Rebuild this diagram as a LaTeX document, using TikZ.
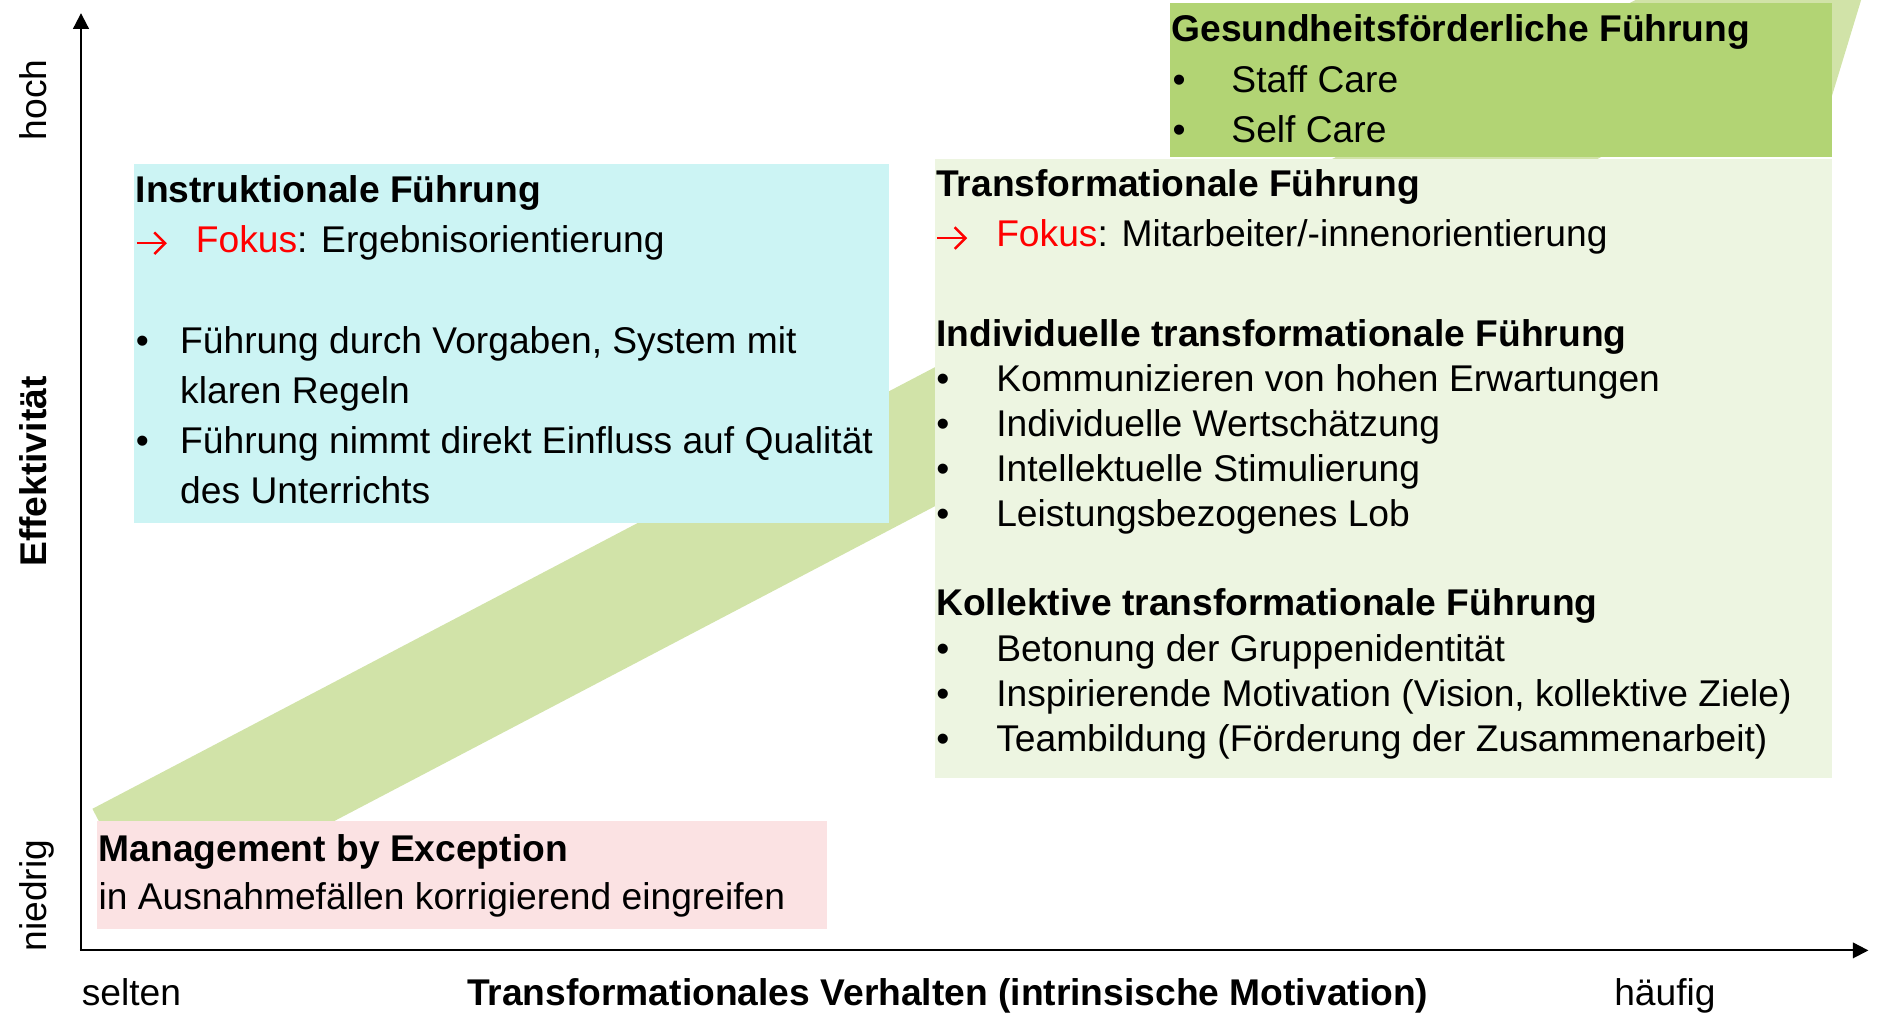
\documentclass[tikz,border=0pt]{standalone}
\usepackage{fontspec}
\setmainfont{Liberation Sans}
\usetikzlibrary{arrows.meta}
\definecolor{bandgreen}{RGB}{209,227,168}
\definecolor{cyanbox}{RGB}{204,244,244}
\definecolor{transbox}{RGB}{237,245,225}
\definecolor{gesbox}{RGB}{178,212,116}
\definecolor{pinkbox}{RGB}{251,226,227}
\definecolor{fokusred}{RGB}{255,0,0}
\begin{document}
\begin{tikzpicture}[x=1pt,y=-1pt,
  txt/.style={anchor=base west, inner sep=0pt, font=\fontsize{31}{37}\selectfont},
  hd/.style={anchor=base west, inner sep=0pt, font=\fontsize{31}{37}\selectfont\bfseries},
  rot/.style={anchor=base west, inner sep=0pt, rotate=90, font=\fontsize{31}{37}\selectfont},
  axisline/.style={line width=1.7pt, -{Triangle[length=13pt,width=13pt]}},
  fokusarrow/.style={draw=fokusred, line width=2pt, -{Straight Barb[length=9pt,width=18pt,line width=2pt]}},
  panel/.style={anchor=north west, inner sep=0pt, outer sep=0pt, draw=none}]
\useasboundingbox (0,0) rectangle (1565,845);
\clip (0,0) rectangle (1565,845);

% background band (block arrow)
\fill[bandgreen] (77,674) -- (1445.9,-43.5) -- (1418.6,-95.4) -- (1565.6,-48.3)
  -- (1520.7,99.4) -- (1493.5,47.4) -- (124.6,764.9) -- cycle;

% panels
\node[panel, fill=cyanbox, minimum width=629pt, minimum height=299pt] (instrbox) at (112,137) {};
\node[panel, fill=transbox, minimum width=748pt, minimum height=515.5pt] (transbox) at (779,132.5) {};
\node[panel, fill=gesbox, minimum width=552pt, minimum height=128pt] (gesbox) at (975,2.5) {};
\node[panel, fill=pinkbox, minimum width=608pt, minimum height=90pt] (mbebox) at (81,684) {};

% axes
\coordinate (origin) at (67.5,792);
\coordinate (ytop) at (67.5,11);
\coordinate (xend) at (1557,792);
\draw[axisline] (origin) -- (ytop);
\draw[axisline] ([xshift=-0.85pt]origin) -- (xend);

% axis labels
\node[rot] (hoch) at (39,117) {hoch};
\node[rot, anchor=base, font=\fontsize{31}{37}\selectfont\bfseries] (effekt) at (39,393) {Effektivität};
\node[rot] (niedrig) at (39,793) {niedrig};
\node[txt] (selten) at (68,838) {selten};
\node[hd] (xtitle) at (389,838) {Transformationales Verhalten (intrinsische Motivation)};
\node[txt] (haeufig) at (1345,838) {häufig};

% Instruktionale Fuehrung
\node[hd] (instrtitle) at (113,168.5) {Instruktionale Führung};
\coordinate (instrarrowS) at (114,202.7);
\coordinate (instrarrowE) at (139,202.7);
\draw[fokusarrow] (instrarrowS) -- (instrarrowE);
\node[txt] (instrfokus) at (163,210.5) {\textcolor{fokusred}{Fokus}: Ergebnisorientierung};
\node[txt] (instrb1) at (113,294.5) {•};
\node[txt] (instrt1) at (150,294.5) {Führung durch Vorgaben, System mit};
\node[txt] (instrt1b) at (150,336) {klaren Regeln};
\node[txt] (instrb2) at (113,378) {•};
\node[txt] (instrt2) at (150,378) {Führung nimmt direkt Einfluss auf Qualität};
\node[txt] (instrt2b) at (150,419.5) {des Unterrichts};

% Transformationale Fuehrung
\node[hd] (transtitle) at (780,164) {Transformationale Führung};
\coordinate (transarrowS) at (781,198.4);
\coordinate (transarrowE) at (806,198.4);
\draw[fokusarrow] (transarrowS) -- (transarrowE);
\node[txt] (transfokus) at (830,205.7) {\textcolor{fokusred}{Fokus}: Mitarbeiter/-innenorientierung};
\node[hd] (indtitle) at (780,288.5) {Individuelle transformationale Führung};
\node[txt] (indb1) at (780,326) {•};
\node[txt] (indt1) at (830,326) {Kommunizieren von hohen Erwartungen};
\node[txt] (indb2) at (780,363.5) {•};
\node[txt] (indt2) at (830,363.5) {Individuelle Wertschätzung};
\node[txt] (indb3) at (780,401) {•};
\node[txt] (indt3) at (830,401) {Intellektuelle Stimulierung};
\node[txt] (indb4) at (780,438.5) {•};
\node[txt] (indt4) at (830,438.5) {Leistungsbezogenes Lob};
\node[hd] (koltitle) at (780,513) {Kollektive transformationale Führung};
\node[txt] (kolb1) at (780,551) {•};
\node[txt] (kolt1) at (830,551) {Betonung der Gruppenidentität};
\node[txt] (kolb2) at (780,588.5) {•};
\node[txt] (kolt2) at (830,588.5) {Inspirierende Motivation (Vision, kollektive Ziele)};
\node[txt] (kolb3) at (780,626) {•};
\node[txt] (kolt3) at (830,626) {Teambildung (Förderung der Zusammenarbeit)};

% Gesundheitsfoerderliche Fuehrung
\node[hd] (gestitle) at (976,35) {Gesundheitsförderliche Führung};
\node[txt] (gesb1) at (977,77.5) {•};
\node[txt] (gest1) at (1026,77.5) {Staff Care};
\node[txt] (gesb2) at (977,119) {•};
\node[txt] (gest2) at (1026,119) {Self Care};

% Management by Exception
\node[hd] (mbetitle) at (82,717.5) {Management by Exception};
\node[txt] (mbetext) at (82,758) {in Ausnahmefällen korrigierend eingreifen};
\end{tikzpicture}
\end{document}
